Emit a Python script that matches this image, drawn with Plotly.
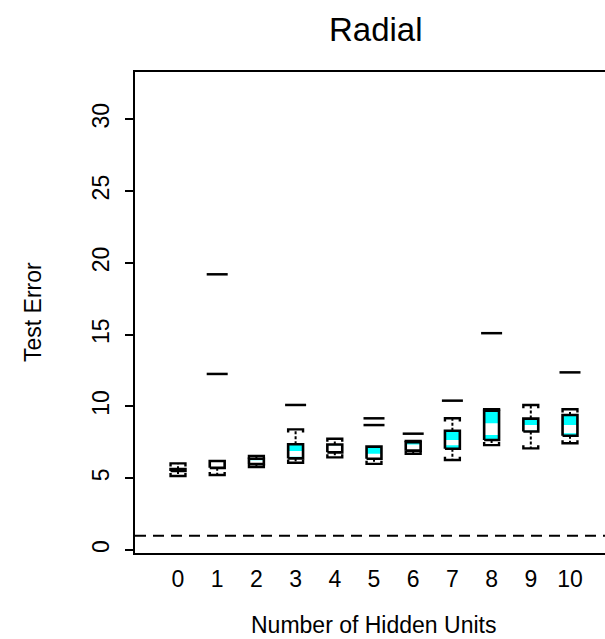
import plotly.graph_objects as go

# ---- data ----
hidden_units = [0, 1, 2, 3, 4, 5, 6, 7, 8, 9, 10]
tick_labels = [str(v) for v in hidden_units]
lower_whisker = [5.15, 5.22, 5.78, 6.08, 6.45, 6.00, 6.70, 6.27, 7.30, 7.08, 7.43]
q1 = [5.50, 5.72, 5.98, 6.38, 6.80, 6.35, 6.92, 7.05, 7.66, 8.25, 7.96]
median = [5.57, 5.95, 6.15, 6.70, 7.10, 6.55, 7.15, 7.48, 8.41, 8.50, 8.42]
q3 = [5.63, 6.20, 6.35, 7.36, 7.35, 7.20, 7.50, 8.30, 9.70, 9.15, 9.40]
upper_whisker = [6.03, 6.20, 6.55, 8.40, 7.75, 7.20, 7.60, 9.17, 9.80, 10.10, 9.80]
median_band = [0.03, 0.20, 0.10, 0.20, 0.20, 0.16, 0.20, 0.18, 0.41, 0.20, 0.29]
outlier_x = [1, 1, 3, 5, 5, 6, 7, 8, 10]
outlier_y = [19.20, 12.26, 10.10, 9.17, 8.70, 8.10, 10.40, 15.10, 12.37]
bayes_error = 1.0
y_ticks = [0, 5, 10, 15, 20, 25, 30]

HW = 0.19      # half box width (x units)
CAP_T = 0.22   # bracket tick length (y units)

box_x, box_y = [], []
band_x, band_y = [], []
wh_x, wh_y = [], []
cap_x, cap_y = [], []
for i, x in enumerate(hidden_units):
    a, b = x - HW, x + HW
    box_x += [a, b, b, a, a, None]
    box_y += [q1[i], q1[i], q3[i], q3[i], q1[i], None]
    lo = max(q1[i], median[i] - median_band[i])
    hi = min(q3[i], median[i] + median_band[i])
    band_x += [a, b, b, a, a, None]
    band_y += [lo, lo, hi, hi, lo, None]
    if upper_whisker[i] > q3[i]:
        wh_x += [x, x, None]
        wh_y += [q3[i], upper_whisker[i], None]
        t = min(CAP_T, upper_whisker[i] - q3[i])
        cap_x += [a, a, b, b, None]
        cap_y += [upper_whisker[i] - t, upper_whisker[i], upper_whisker[i], upper_whisker[i] - t, None]
    if lower_whisker[i] < q1[i]:
        wh_x += [x, x, None]
        wh_y += [q1[i], lower_whisker[i], None]
        t = min(CAP_T, q1[i] - lower_whisker[i])
        cap_x += [a, a, b, b, None]
        cap_y += [lower_whisker[i] + t, lower_whisker[i], lower_whisker[i], lower_whisker[i] + t, None]

fig = go.Figure()
fig.add_trace(go.Scatter(x=box_x, y=box_y, mode="lines", fill="toself",
                         fillcolor="#00FFFF", line=dict(width=0), hoverinfo="skip"))
fig.add_trace(go.Scatter(x=band_x, y=band_y, mode="lines", fill="toself",
                         fillcolor="white", line=dict(width=0), hoverinfo="skip"))
fig.add_trace(go.Scatter(x=wh_x, y=wh_y, mode="lines",
                         line=dict(color="black", width=2, dash="3px,2px"), hoverinfo="skip"))
fig.add_trace(go.Scatter(x=cap_x, y=cap_y, mode="lines",
                         line=dict(color="black", width=2.4), hoverinfo="skip"))
fig.add_trace(go.Scatter(x=box_x, y=box_y, mode="lines",
                         line=dict(color="black", width=2.6), hoverinfo="skip"))
fig.add_trace(go.Scatter(x=outlier_x, y=outlier_y, mode="markers",
                         marker=dict(symbol="line-ew", size=15, color="black",
                                     line=dict(color="black", width=2.5))))

fig.add_shape(type="line", xref="paper", x0=0, x1=1, yref="y", y0=bayes_error, y1=bayes_error,
              line=dict(color="black", width=2, dash="11px,7px"))

FONT = "Liberation Sans, Arial, sans-serif"
fig.update_layout(
    width=605, height=639,
    margin=dict(l=135, r=0, t=72, b=86),
    paper_bgcolor="white", plot_bgcolor="white",
    showlegend=False,
    font=dict(family=FONT, color="black"),
    xaxis=dict(range=[-1.097, 10.893], tickmode="array", tickvals=hidden_units, ticktext=tick_labels,
               showgrid=False, zeroline=False, showline=True, linecolor="black", linewidth=2,
               mirror=True, ticks="outside", ticklen=4, tickcolor="rgba(0,0,0,0)",
               tickfont=dict(size=23, family=FONT, color="black")),
    yaxis=dict(range=[-0.21, 33.29], tickmode="array", tickvals=y_ticks,
               ticktext=[str(v) for v in y_ticks],
               showgrid=False, zeroline=False, showline=True, linecolor="black", linewidth=2,
               ticks="outside", ticklen=8, tickwidth=1.5, tickcolor="black", tickangle=-90,
               ticklabelstandoff=7,
               tickfont=dict(size=23, family=FONT, color="black")),
    annotations=[
        dict(text="Radial", xref="paper", yref="paper", x=0.512, y=1.089,
             showarrow=False, xanchor="center", yanchor="middle",
             font=dict(size=33, family=FONT, color="black")),
        dict(text="Number of Hidden Units", xref="paper", yref="paper", x=0.5085, y=-0.15,
             showarrow=False, xanchor="center", yanchor="middle",
             font=dict(size=23, family=FONT, color="black")),
        dict(text="Test Error", xref="paper", yref="paper", x=-0.217, y=0.501, textangle=-90,
             showarrow=False, xanchor="center", yanchor="middle",
             font=dict(size=23, family=FONT, color="black")),
    ],
)
fig.write_html("out.html", config={"displayModeBar": False},
               post_script="document.body.style.margin='0px';")
